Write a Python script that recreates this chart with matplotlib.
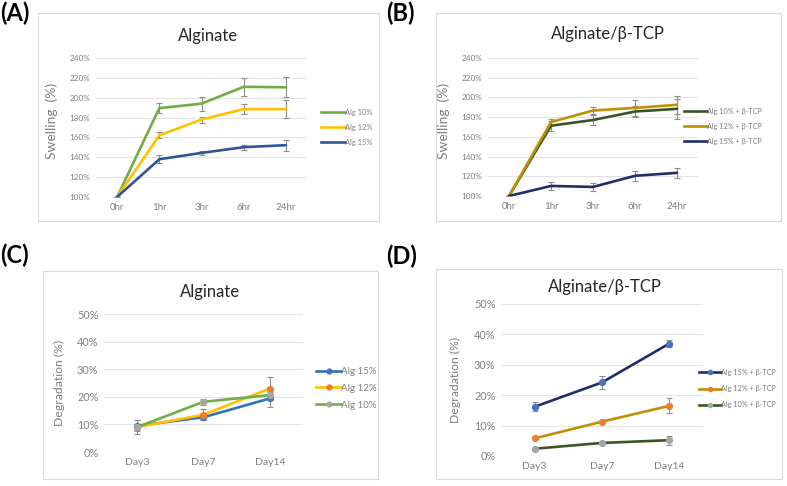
import matplotlib
matplotlib.use("Agg")
import matplotlib.pyplot as plt
from matplotlib.patches import Rectangle
from matplotlib.lines import Line2D

plt.rcParams['font.family'] = ['Lato', 'DejaVu Sans']

# ---------------- data ----------------
swell_times = ["0hr", "1hr", "3hr", "6hr", "24hr"]
# Panel A (Alginate swelling, %)
a_labels = ["Alg 10%", "Alg 12%", "Alg 15%"]
a_alg10 = [100, 189.5, 194, 211, 210.5]
a_alg10_err = [0, 4.7, 7, 9, 10]
a_alg12 = [100, 162, 178, 188.5, 188.5]
a_alg12_err = [0, 3, 3, 5, 9]
a_alg15 = [100, 138, 144.4, 150.2, 152.2]
a_alg15_err = [0, 4, 2, 2.4, 5.4]

# Panel B (Alginate/β-TCP swelling, %)
b_labels = ["Alg 10% + β-TCP", "Alg 12% + β-TCP", "Alg 15% + β-TCP"]
b_alg10 = [100, 171.3, 177.1, 185.7, 188.4]
b_alg10_err = [0, 5, 5, 6, 10]
b_alg12 = [100, 175, 186.7, 189.4, 192.5]
b_alg12_err = [0, 3, 4, 8, 9]
b_alg15 = [100, 110.2, 109.2, 120.5, 123.5]
b_alg15_err = [0, 4, 4, 5, 5]

deg_days = ["Day3", "Day7", "Day14"]
# Panel C (Alginate degradation, %)
c_labels = ["Alg 15%", "Alg 12%", "Alg 10%"]
c_alg15 = [9.5, 12.6, 19.4]
c_alg15_err = [2.0, 1.0, 3.0]
c_alg12 = [9.0, 13.5, 23.0]
c_alg12_err = [1.0, 2.0, 4.0]
c_alg10 = [9.0, 18.2, 20.6]
c_alg10_err = [2.5, 1.0, 1.0]

# Panel D (Alginate/β-TCP degradation, %)
d_labels = ["Alg 15% + β-TCP", "Alg 12% + β-TCP", "Alg 10% + β-TCP"]
d_alg15 = [16.2, 24.2, 37.0]
d_alg15_err = [1.5, 2.0, 1.0]
d_alg12 = [5.8, 11.3, 16.5]
d_alg12_err = [0.3, 0.5, 2.5]
d_alg10 = [2.4, 4.3, 5.2]
d_alg10_err = [0.3, 0.3, 1.5]

W, H = 787, 486
fig = plt.figure(figsize=(W / 100, H / 100), dpi=100)

def fx(px):
    return px / W

def fy(py):
    return 1 - py / H

def add_box(x0, y0, x1, y1):
    fig.patches.append(Rectangle((fx(x0), fy(y1)), fx(x1 - x0), (y1 - y0) / H,
                                 transform=fig.transFigure, fill=False,
                                 edgecolor="#d9d9d9", lw=0.8, zorder=0))

def make_ax(x0, x1, ytop, ybot):
    return fig.add_axes([fx(x0), fy(ybot), fx(x1 - x0), (ybot - ytop) / H])

ERRC = "#8c8c8c"
TICKC = "#7f7f7f"

def style_ax(ax, ncat, ymin, ymax, step, cats, ylabel, tfs, xfs, yfs):
    ax.set_xlim(-0.5, ncat - 0.5)
    ax.set_ylim(ymin, ymax)
    ticks = list(range(ymin, ymax + 1, step))
    ax.set_yticks(ticks)
    ax.set_yticklabels([f"{t}%" for t in ticks], fontsize=tfs, color=TICKC)
    ax.set_xticks(range(ncat))
    ax.set_xticklabels(cats, fontsize=xfs, color=TICKC)
    for s in ax.spines.values():
        s.set_visible(False)
    ax.tick_params(length=0, pad=4)
    ax.grid(axis="y", color="#e3e3e3", lw=0.8)
    ax.set_axisbelow(True)
    ax.set_ylabel(ylabel, fontsize=yfs, color=TICKC)
    ax.patch.set_alpha(0)

def plot_series(ax, vals, errs, color, mcolor=None, lw=1.9):
    x = list(range(len(vals)))
    ax.errorbar(x, vals, yerr=errs, fmt="none", ecolor=ERRC, elinewidth=0.8,
                capsize=2, capthick=0.8, zorder=2)
    ax.plot(x, vals, color=color, lw=lw, zorder=3, solid_capstyle="round")
    if mcolor is not None:
        ax.plot(x, vals, ls="none", marker="o", ms=4.2, color=mcolor, zorder=4)

def legend_at(ax, handles, labels, x, y, fs, hl, ls):
    ax.legend(handles, labels, loc="upper left", bbox_to_anchor=(fx(x), fy(y)),
              bbox_transform=fig.transFigure, frameon=False, fontsize=fs,
              handlelength=hl, handletextpad=0.0, labelspacing=ls,
              borderaxespad=0, borderpad=0, labelcolor="#7f7f7f")

# ---------------- Panel A ----------------
add_box(38, 13, 379, 221)
axA = make_ax(96, 307, 58, 197)
style_ax(axA, 5, 100, 240, 20, swell_times, "Swelling  (%)", 5.9, 7.0, 10)
cA = ["#70ad47", "#ffc000", "#2f5597"]
plot_series(axA, a_alg10, a_alg10_err, cA[0])
plot_series(axA, a_alg12, a_alg12_err, cA[1])
plot_series(axA, a_alg15, a_alg15_err, cA[2])
axA.yaxis.set_label_coords(fx(58), fy(121), transform=fig.transFigure)
fig.text(fx(208), fy(36), "Alginate", fontsize=12, ha="center", va="center", color="#262626")
hA = [Line2D([], [], color=c, lw=1.9) for c in cA]
legend_at(axA, hA, a_labels, 321, 109, 5.4, 3.2, 1.05)

# ---------------- Panel B ----------------
add_box(436, 13, 781, 221)
axB = make_ax(488, 698, 58, 196)
style_ax(axB, 5, 100, 240, 20, swell_times, "Swelling  (%)", 5.9, 7.0, 10)
cB = ["#375623", "#bf9000", "#1f2d6b"]
plot_series(axB, b_alg10, b_alg10_err, cB[0])
plot_series(axB, b_alg12, b_alg12_err, cB[1])
plot_series(axB, b_alg15, b_alg15_err, cB[2])
axB.yaxis.set_label_coords(fx(393 + 57), fy(121), transform=fig.transFigure)
fig.text(fx(608), fy(34), "Alginate/β-TCP", fontsize=12, ha="center", va="center", color="#262626")
hB = [Line2D([], [], color=c, lw=1.9) for c in cB]
legend_at(axB, hB, b_labels, 684, 108, 5.2, 3.2, 1.1)

# ---------------- Panel C ----------------
add_box(43, 271, 378, 479)
axC = make_ax(104, 303, 314, 452)
style_ax(axC, 3, 0, 50, 10, deg_days, "Degradation (%)", 7.8, 7.5, 8.8)
cC = ["#2e75b6", "#ffc000", "#70ad47"]
mC = ["#4472c4", "#ed7d31", "#a5a5a5"]
plot_series(axC, c_alg15, c_alg15_err, cC[0], mC[0])
plot_series(axC, c_alg12, c_alg12_err, cC[1], mC[1])
plot_series(axC, c_alg10, c_alg10_err, cC[2], mC[2])
axC.yaxis.set_label_coords(fx(65), fy(383), transform=fig.transFigure)
fig.text(fx(210), fy(292), "Alginate", fontsize=12, ha="center", va="center", color="#262626")
hC = [Line2D([], [], color=c, lw=1.9, marker="o", ms=3.5, mfc=m, mec=m) for c, m in zip(cC, mC)]
legend_at(axC, hC, c_labels, 316, 367, 7.0, 2.6, 0.8)

# ---------------- Panel D ----------------
add_box(436, 269, 782, 479)
axD = make_ax(501, 703, 304, 456)
style_ax(axD, 3, 0, 50, 10, deg_days, "Degradation (%)", 7.8, 7.5, 8.8)
cD = ["#1f2d6b", "#bf9000", "#375623"]
mD = ["#4472c4", "#ed7d31", "#a5a5a5"]
plot_series(axD, d_alg15, d_alg15_err, cD[0], mD[0])
plot_series(axD, d_alg12, d_alg12_err, cD[1], mD[1])
plot_series(axD, d_alg10, d_alg10_err, cD[2], mD[2])
axD.yaxis.set_label_coords(fx(393 + 68), fy(380), transform=fig.transFigure)
fig.text(fx(605), fy(287), "Alginate/β-TCP", fontsize=12, ha="center", va="center", color="#262626")
hD = [Line2D([], [], color=c, lw=1.9, marker="o", ms=3.0, mfc=m, mec=m) for c, m in zip(cD, mD)]
legend_at(axD, hD, d_labels, 699, 369, 5.2, 3.0, 1.25)

# ---------------- Panel letters ----------------
for lab, x, y in [("(A)", 0, 13), ("(B)", 386, 13), ("(C)", 0, 255), ("(D)", 386, 256)]:
    fig.text(fx(x), fy(y), lab, fontsize=17, fontweight="bold", ha="left", va="center", color="black")

fig.savefig("out.png", dpi=100)
